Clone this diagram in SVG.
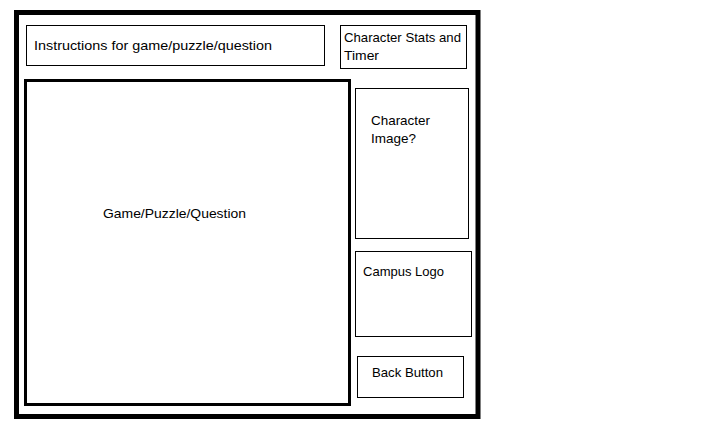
<svg xmlns="http://www.w3.org/2000/svg" width="715" height="424" viewBox="0 0 715 424">
<style>
rect{fill:none;stroke:#000}
.thin{stroke-width:1}
text{font-family:"Liberation Sans",Arial,sans-serif;font-size:13.5px;fill:#000}
</style>
<rect x="0" y="0" width="715" height="424" style="fill:#fff;stroke:none"/>
<g id="frame"><rect x="16.5" y="12.5" width="461.5" height="404" stroke-width="5"/></g>
<g id="instructions"><rect class="thin" x="26.5" y="25.5" width="298" height="40"/><text x="34" y="50" textLength="238" lengthAdjust="spacingAndGlyphs">Instructions for game/puzzle/question</text></g>
<g id="stats"><rect class="thin" x="340.5" y="25.5" width="126" height="43"/><text x="344" y="42" textLength="117" lengthAdjust="spacingAndGlyphs">Character Stats and</text><text x="344" y="60" textLength="35" lengthAdjust="spacingAndGlyphs">Timer</text></g>
<g id="game"><rect x="25.5" y="80.5" width="324" height="324" stroke-width="3"/><text x="103" y="218" textLength="143" lengthAdjust="spacingAndGlyphs">Game/Puzzle/Question</text></g>
<g id="image"><rect class="thin" x="355.5" y="88.5" width="113" height="150"/><text x="371" y="125" textLength="59" lengthAdjust="spacingAndGlyphs">Character</text><text x="371" y="143" textLength="45" lengthAdjust="spacingAndGlyphs">Image?</text></g>
<g id="logo"><rect class="thin" x="355.5" y="251.5" width="116" height="85"/><text x="363" y="276" textLength="81" lengthAdjust="spacingAndGlyphs">Campus Logo</text></g>
<g id="back"><rect class="thin" x="357.5" y="356.5" width="106" height="41"/><text x="372" y="377" textLength="71" lengthAdjust="spacingAndGlyphs">Back Button</text></g>
<g id="connectors"></g>
</svg>
